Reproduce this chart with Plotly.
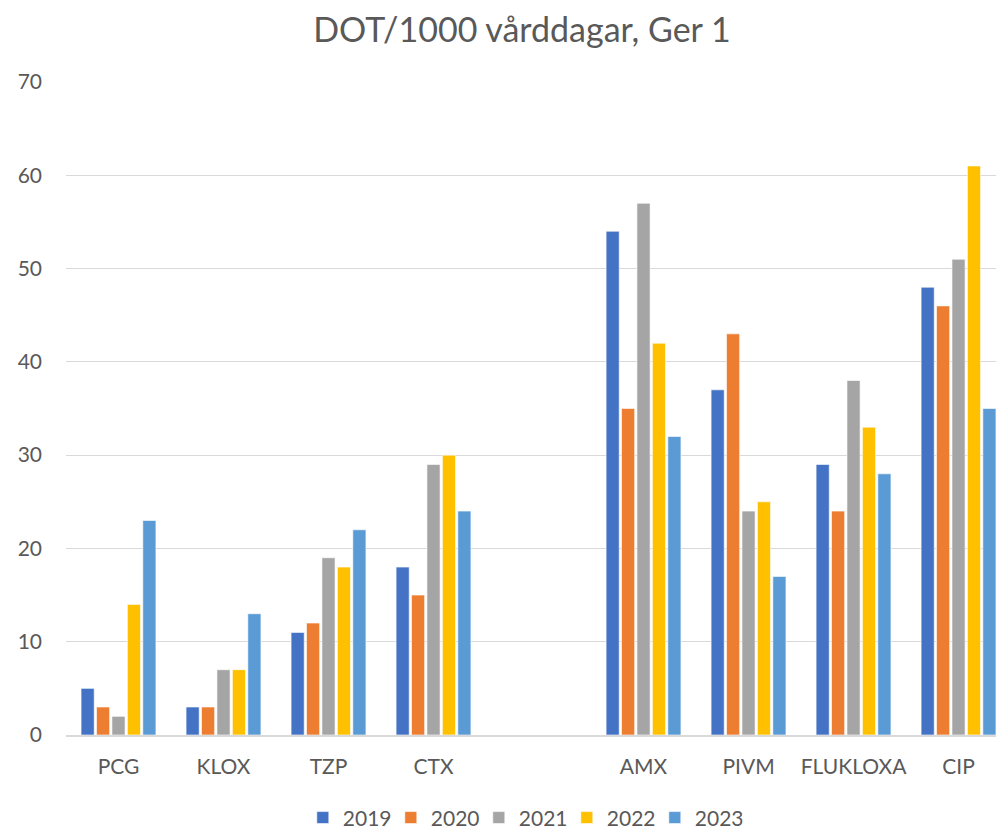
import plotly.graph_objects as go

categories = ["PCG", "KLOX", "TZP", "CTX", " ", "AMX", "PIVM", "FLUKLOXA", "CIP"]
years = ["2019", "2020", "2021", "2022", "2023"]
v2019 = [5, 3, 11, 18, None, 54, 37, 29, 48]
v2020 = [3, 3, 12, 15, None, 35, 43, 24, 46]
v2021 = [2, 7, 19, 29, None, 57, 24, 38, 51]
v2022 = [14, 7, 18, 30, None, 42, 25, 33, 61]
v2023 = [23, 13, 22, 24, None, 32, 17, 28, 35]
series = [v2019, v2020, v2021, v2022, v2023]
colors = ["#4472C4", "#ED7D31", "#A5A5A5", "#FFC000", "#5B9BD5"]

fig = go.Figure()
for name, vals, col in zip(years, series, colors):
    fig.add_trace(go.Bar(x=categories, y=vals, name=name,
                         marker=dict(color=col, line=dict(color="white", width=0.6))))

font = "Lato, Calibri, sans-serif"
fig.update_layout(
    width=996, height=821,
    barmode="group", bargap=0.265, bargroupgap=0.15,
    paper_bgcolor="white", plot_bgcolor="white",
    margin=dict(l=58, r=0, t=74, b=94, autoexpand=False),
    title=dict(text="DOT/1000 vårddagar, Ger 1", x=0.516, xanchor="center",
               yref="container", y=1 - 22 / 821, yanchor="middle",
               font=dict(family=font, size=34, color="#595959")),
    font=dict(family=font, color="#595959"),
    xaxis=dict(type="category", categoryorder="array", categoryarray=categories,
               range=[-0.5, 8.433], showgrid=False, showline=True, automargin=False,
               linecolor="#d9d9d9", linewidth=1.5, ticks="", ticklabelstandoff=12,
               tickfont=dict(size=21, color="#595959")),
    yaxis=dict(range=[0, 70], dtick=10, showgrid=True, gridcolor="#d9d9d9",
               gridwidth=1.3, zeroline=False, ticks="", ticklabelstandoff=23,
               automargin=False,
               tickfont=dict(size=21, color="#595959")),
    legend=dict(orientation="h", x=0.487, xanchor="center", y=-0.127, yanchor="middle",
                font=dict(size=21, color="#595959"), itemwidth=30,
                entrywidth=43, entrywidthmode="pixels",
                traceorder="normal"),
    showlegend=True,
)
fig.write_html("out.html")
